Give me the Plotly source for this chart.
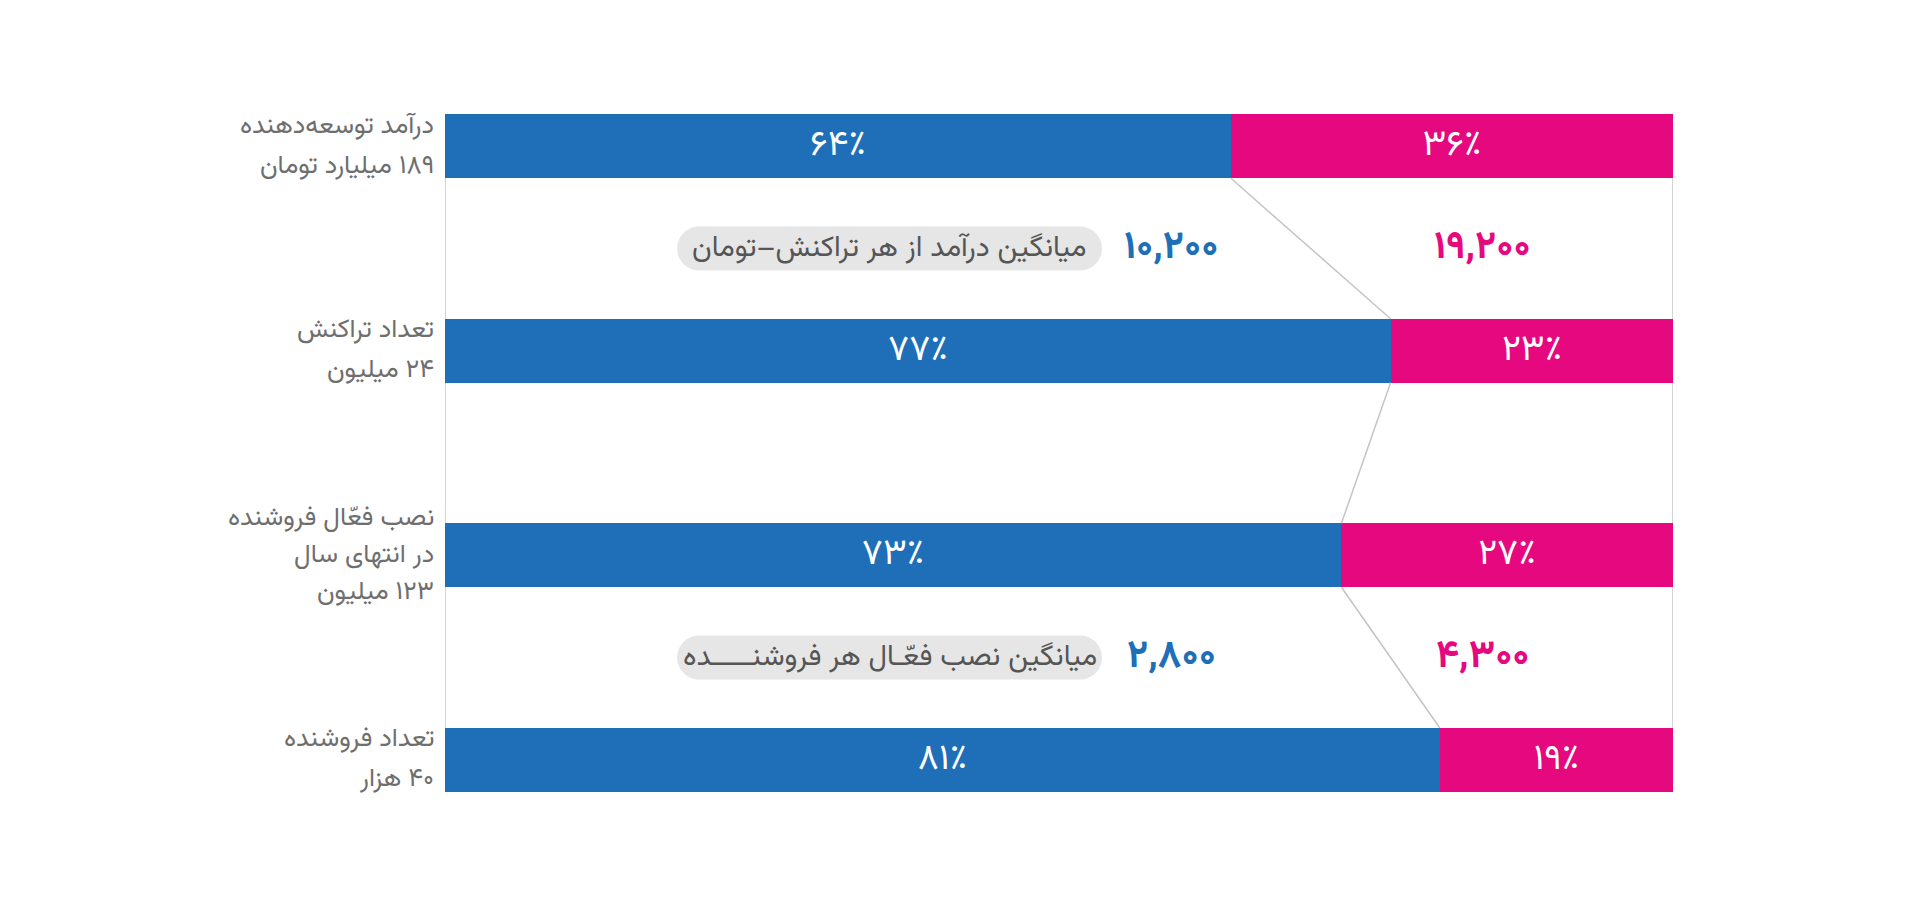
import plotly.graph_objects as go

# ---- data ----
rows = [["درآمد توسعه‌دهنده", "۱۸۹ میلیارد تومان"],
        ["تعداد تراکنش", "۲۴ میلیون"],
        ["نصب فعّال فروشنده", "در انتهای سال", "۱۲۳ میلیون"],
        ["تعداد فروشنده", "۴۰ هزار"]]
blue_pct = [64, 77, 73, 81]
pink_pct = [36, 23, 27, 19]

# averages shown between the bars (after row 0 and row 2)
avg_labels = ["میانگین درآمد از هر تراکنش–تومان",
              "میانگین نصب فعّـال هر فروشنـــــده"]
avg_blue = [10200, 2800]
avg_pink = [19200, 4300]
avg_after_row = [0, 2]

BLUE = "#1e6eb8"
PINK = "#e6087e"
GRAY_TXT = "#6e6e6e"
LINE = "#c4c4c4"
FONT = "Vazirmatn, 'Noto Sans Arabic', 'DejaVu Sans', sans-serif"
RLM = "\u200f"

# page body has an 8px margin, so the figure is a bit smaller
W, H = 1904, 885
ML, MR, MT, MB = 437, 239, 36, 31
BAR_W = 0.313
LINE_GAP = {2: 40, 3: 37}  # px between lines of the row labels

FA = str.maketrans("0123456789", "۰۱۲۳۴۵۶۷۸۹")


def fa(s):
    return str(s).translate(FA)


def fa_num(n):
    return fa(f"{n:,}")


ypos = list(range(len(rows)))

fig = go.Figure()
fig.add_trace(go.Bar(y=ypos, x=blue_pct, orientation="h", width=BAR_W,
                     marker=dict(color=BLUE, line=dict(width=0)),
                     text=[fa(v) + "٪" for v in blue_pct],
                     textposition="inside", insidetextanchor="middle",
                     textfont=dict(color="white", size=36, family=FONT),
                     hoverinfo="skip"))
fig.add_trace(go.Bar(y=ypos, x=pink_pct, orientation="h", width=BAR_W,
                     marker=dict(color=PINK, line=dict(width=0)),
                     text=[fa(v) + "٪" for v in pink_pct],
                     textposition="inside", insidetextanchor="middle",
                     textfont=dict(color="white", size=36, family=FONT),
                     hoverinfo="skip"))

# connector lines between split points
cx, cy = [], []
for i in range(len(rows) - 1):
    cx += [blue_pct[i], blue_pct[i + 1], None]
    cy += [i + BAR_W / 2, i + 1 - BAR_W / 2, None]
fig.add_trace(go.Scatter(x=cx, y=cy, mode="lines",
                         line=dict(color=LINE, width=1.5),
                         hoverinfo="skip", showlegend=False))

# side lines
for xv in (0, 100):
    fig.add_shape(type="line", x0=xv, x1=xv, y0=-BAR_W / 2,
                  y1=len(rows) - 1 + BAR_W / 2,
                  line=dict(color=LINE, width=1.5), layer="below")

# row labels, one annotation per line so the line spacing can be set
for i, lines in enumerate(rows):
    n = len(lines)
    gap = LINE_GAP[n]
    for k, line in enumerate(lines):
        fig.add_annotation(xref="paper", x=0, y=i, xanchor="right",
                           xshift=-10, yshift=((n - 1) / 2 - k) * gap,
                           text=RLM + line, showarrow=False, borderpad=0,
                           font=dict(color=GRAY_TXT, size=26, family=FONT))

# pixel scale helpers for the rounded pills
px_x = (W - ML - MR) / 100
px_y = (H - MT - MB) / len(rows)


def pill_path(xl, xr, yc, h_px):
    rx = h_px / 2 / px_x
    ry = h_px / 2 / px_y
    k = 0.5523
    yt, yb = yc - ry, yc + ry
    return (f"M {xl+rx},{yt} L {xr-rx},{yt} "
            f"C {xr-rx+k*rx},{yt} {xr},{yc-k*ry} {xr},{yc} "
            f"C {xr},{yc+k*ry} {xr-rx+k*rx},{yb} {xr-rx},{yb} "
            f"L {xl+rx},{yb} "
            f"C {xl+rx-k*rx},{yb} {xl},{yc+k*ry} {xl},{yc} "
            f"C {xl},{yc-k*ry} {xl+rx-k*rx},{yt} {xl+rx},{yt} Z")


for j, r in enumerate(avg_after_row):
    yc = r + 0.5
    xl, xr = 18.9, 53.5
    fig.add_shape(type="path", path=pill_path(xl, xr, yc, 44),
                  fillcolor="#e6e6e6", line=dict(width=0), layer="below")
    fig.add_annotation(x=(xl + xr) / 2, y=yc, text=avg_labels[j],
                       showarrow=False,
                       font=dict(color="#555555", size=29, family=FONT))
    fig.add_annotation(x=59.2, y=yc, text="<b>" + fa_num(avg_blue[j]) + "</b>",
                       showarrow=False,
                       font=dict(color=BLUE, size=39, family=FONT))
    fig.add_annotation(x=84.5, y=yc, text="<b>" + fa_num(avg_pink[j]) + "</b>",
                       showarrow=False,
                       font=dict(color=PINK, size=39, family=FONT))

fig.update_layout(
    barmode="stack", showlegend=False,
    width=W, height=H,
    margin=dict(l=ML, r=MR, t=MT, b=MB),
    plot_bgcolor="white", paper_bgcolor="white",
    bargap=0,
    xaxis=dict(range=[0, 100], visible=False, fixedrange=True),
    yaxis=dict(range=[len(rows) - 0.5, -0.5], tickvals=ypos,
               showticklabels=False, showgrid=False, zeroline=False,
               showline=False, ticks=""),
)

fig.write_html("out.html")
